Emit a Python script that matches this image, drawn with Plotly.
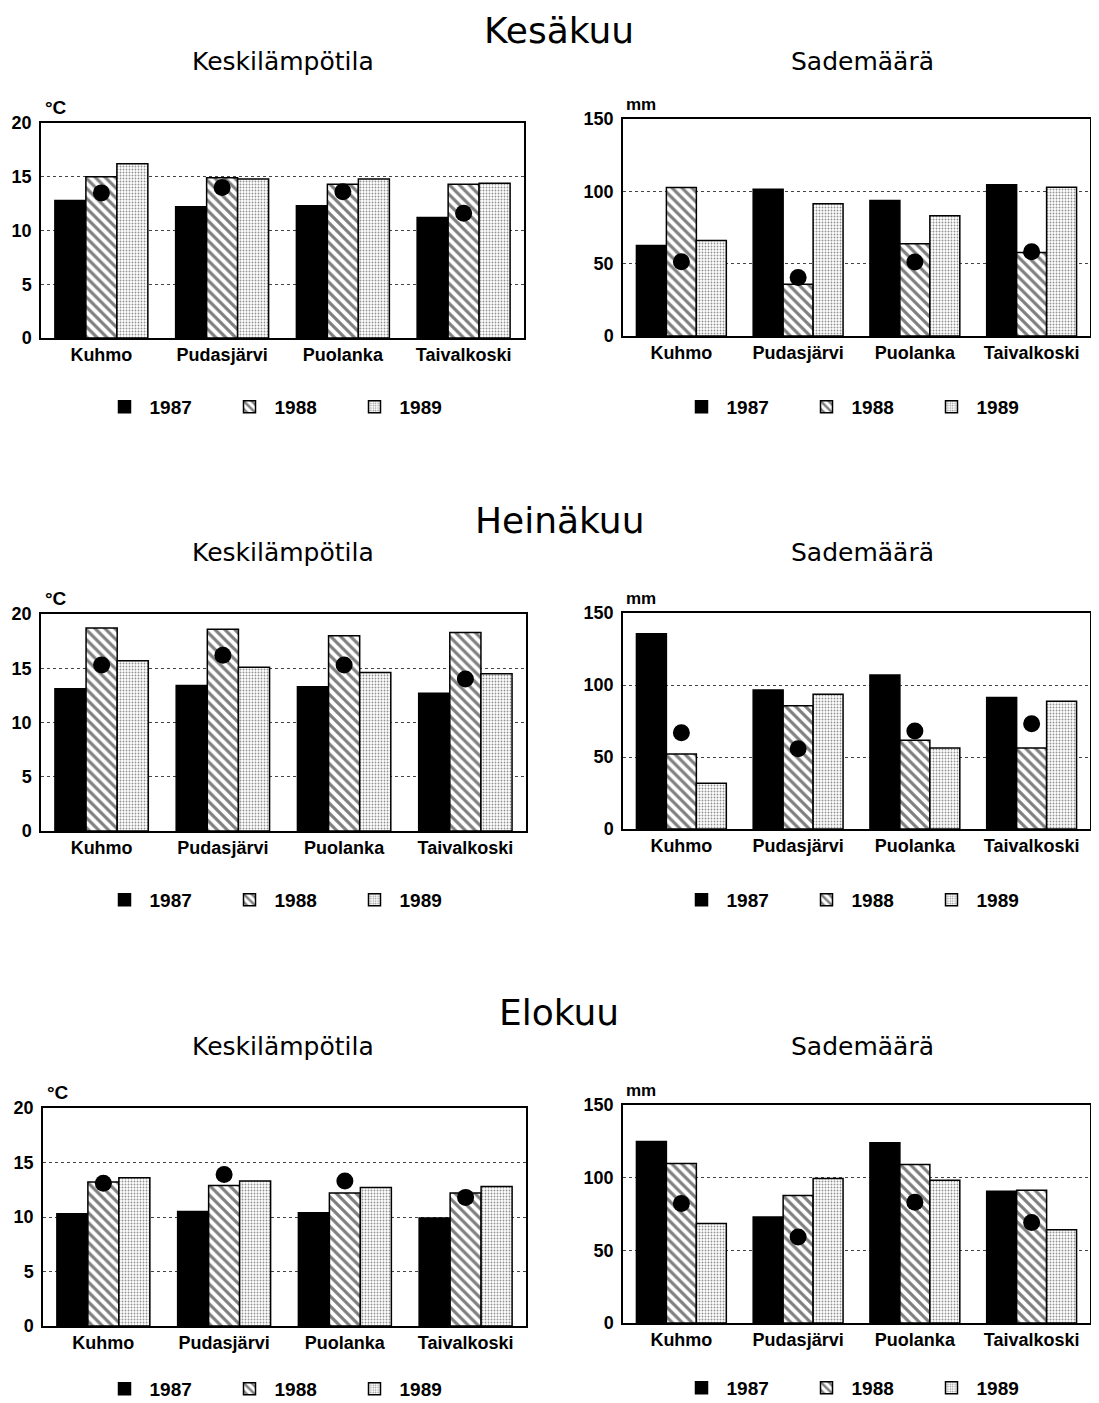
import plotly.graph_objects as go

stations = ["Kuhmo", "Pudasjärvi", "Puolanka", "Taivalkoski"]
years = ["1987", "1988", "1989"]

# Kesäkuu (June)
jun_temp_1987 = [12.8, 12.2, 12.3, 11.2]
jun_temp_1988 = [15.0, 14.9, 14.3, 14.3]
jun_temp_1989 = [16.2, 14.8, 14.8, 14.4]
jun_temp_mean = [13.5, 14.0, 13.6, 11.6]
jun_prec_1987 = [62.6, 101.5, 93.6, 104.5]
jun_prec_1988 = [102.6, 35.8, 63.8, 57.8]
jun_prec_1989 = [66.1, 91.5, 83.2, 102.8]
jun_prec_mean = [51.3, 40.4, 51.1, 58.2]

# Heinäkuu (July)
jul_temp_1987 = [13.1, 13.4, 13.3, 12.7]
jul_temp_1988 = [18.7, 18.6, 18.0, 18.3]
jul_temp_1989 = [15.7, 15.1, 14.6, 14.5]
jul_temp_mean = [15.3, 16.2, 15.3, 14.0]
jul_prec_1987 = [135.6, 96.5, 106.9, 91.4]
jul_prec_1988 = [52.1, 85.6, 61.6, 56.3]
jul_prec_1989 = [31.7, 93.5, 56.3, 88.7]
jul_prec_mean = [66.9, 55.8, 68.1, 73.1]

# Elokuu (August)
aug_temp_1987 = [10.3, 10.5, 10.4, 9.9]
aug_temp_1988 = [13.2, 12.9, 12.2, 12.2]
aug_temp_1989 = [13.6, 13.3, 12.7, 12.8]
aug_temp_mean = [13.1, 13.9, 13.3, 11.8]
aug_prec_1987 = [124.8, 73.0, 124.1, 90.7]
aug_prec_1988 = [109.7, 87.7, 109.0, 91.4]
aug_prec_1989 = [68.5, 99.4, 98.2, 64.1]
aug_prec_mean = [82.2, 59.1, 83.1, 69.2]

month_titles = ["Kesäkuu", "Heinäkuu", "Elokuu"]
left_title = "Keskilämpötila"
right_title = "Sademäärä"
temp_ticks = [0, 5, 10, 15, 20]
prec_ticks = [0, 50, 100, 150]

# page body has an 8px margin: screen = 8 + figure pixel
OFFX, OFFY = 8, 8
FW, FH = 1083, 1395


def fx(px):
    return min(1.0, max(0.0, (px - OFFX) / FW))


def fy(py):
    return min(1.0, max(0.0, 1 - (py - OFFY) / FH))


panels = [
    (jun_temp_1987, jun_temp_1988, jun_temp_1989, jun_temp_mean, "temp"),
    (jun_prec_1987, jun_prec_1988, jun_prec_1989, jun_prec_mean, "prec"),
    (jul_temp_1987, jul_temp_1988, jul_temp_1989, jul_temp_mean, "temp"),
    (jul_prec_1987, jul_prec_1988, jul_prec_1989, jul_prec_mean, "prec"),
    (aug_temp_1987, aug_temp_1988, aug_temp_1989, aug_temp_mean, "temp"),
    (aug_prec_1987, aug_prec_1988, aug_prec_1989, aug_prec_mean, "prec"),
]

# reference pixel boxes: (x0, x1, ytop, ybottom)
boxes = [
    (41, 524, 123, 338),
    (623, 1090, 119, 336),
    (41, 526, 614, 831),
    (623, 1090, 613, 829),
    (43, 526, 1108, 1326),
    (623, 1090, 1105, 1323),
]
legend_y_px = [407, 407, 900, 900, 1389, 1388]
legend_x_px = [287, 864, 287, 864, 287, 864]

FONT = "Liberation Sans, Arial, sans-serif"
TFONT = "DejaVu Sans, Verdana, sans-serif"

fig = go.Figure()
layout = dict(
    width=FW, height=FH, autosize=False,
    margin=dict(l=0, r=0, t=0, b=0, autoexpand=False),
    paper_bgcolor="white", plot_bgcolor="white",
    barmode="group", bargap=0.23, bargroupgap=0,
    font=dict(family=FONT, color="black"),
    annotations=[],
)

styles = [
    dict(color="black", pattern=None),
    dict(color="white", pattern=dict(shape="\\", fgcolor="black", bgcolor="white", size=7, solidity=0.45)),
    dict(color="white", pattern=dict(shape=".", fgcolor="#222222", bgcolor="white", size=3, solidity=0.3)),
]

for i, (v87, v88, v89, vmean, kind) in enumerate(panels):
    n = i + 1
    xa = "x" if n == 1 else f"x{n}"
    ya = "y" if n == 1 else f"y{n}"
    lg = "legend" if n == 1 else f"legend{n}"
    for j, (yr, vals) in enumerate(zip(years, [v87, v88, v89])):
        st = styles[j]
        marker = dict(color=st["color"], line=dict(color="black", width=1.5))
        if st["pattern"]:
            marker["pattern"] = st["pattern"]
        fig.add_trace(go.Bar(
            x=stations, y=vals, name=yr, xaxis=xa, yaxis=ya, legend=lg,
            marker=marker, offsetgroup=str(j),
        ))
    fig.add_trace(go.Scatter(
        x=stations, y=vmean, mode="markers", xaxis=xa, yaxis=ya,
        marker=dict(color="black", size=17), showlegend=False,
    ))
    x0, x1, yt, yb = boxes[i]
    xkey = "xaxis" if n == 1 else f"xaxis{n}"
    ykey = "yaxis" if n == 1 else f"yaxis{n}"
    layout[xkey] = dict(
        domain=[fx(x0), fx(x1)], anchor=ya, type="category",
        showline=True, linecolor="black", linewidth=1.5, mirror=True,
        showgrid=False, ticks="",
        tickfont=dict(size=18, family=FONT, weight=700),
        fixedrange=True,
    )
    if kind == "temp":
        rng, tv = [0, 20], temp_ticks
    else:
        rng, tv = [0, 150], prec_ticks
    layout[ykey] = dict(
        domain=[fy(yb), fy(yt)], anchor=xa, range=rng,
        tickvals=tv, ticks="",
        showline=True, linecolor="black", linewidth=1.5, mirror=True,
        showgrid=True, gridcolor="#444444", griddash="dot", gridwidth=1,
        zeroline=False, tickfont=dict(size=18, family=FONT, weight=700),
        ticklabelstandoff=4, fixedrange=True,
    )
    layout[lg] = dict(
        orientation="h", x=fx(legend_x_px[i]), xanchor="center",
        y=fy(legend_y_px[i]), yanchor="middle",
        font=dict(size=19, family=FONT, weight=700),
        entrywidth=70, entrywidthmode="pixels",
        itemwidth=40, traceorder="normal", bgcolor="rgba(0,0,0,0)",
    )
    unit = "°C" if kind == "temp" else "mm"
    layout["annotations"].append(dict(
        text=unit, xref="paper", yref="paper",
        x=fx(x0 + (2 if kind == "temp" else 1)), y=fy(yt - 3),
        xanchor="left", yanchor="bottom", showarrow=False,
        font=dict(size=19 if kind == "temp" else 17, family=FONT, weight=700),
    ))

title_y = [30, 520, 1012]
sub_y = [61, 552, 1046]
for k, t in enumerate(month_titles):
    layout["annotations"].append(dict(
        text=t, xref="paper", yref="paper", x=fx(559), y=fy(title_y[k]),
        xanchor="center", yanchor="middle", showarrow=False,
        font=dict(size=36, family=TFONT),
    ))
    layout["annotations"].append(dict(
        text=left_title, xref="paper", yref="paper", x=fx(283), y=fy(sub_y[k]),
        xanchor="center", yanchor="middle", showarrow=False,
        font=dict(size=25, family=TFONT),
    ))
    layout["annotations"].append(dict(
        text=right_title, xref="paper", yref="paper", x=fx(862), y=fy(sub_y[k]),
        xanchor="center", yanchor="middle", showarrow=False,
        font=dict(size=25, family=TFONT),
    ))

fig.update_layout(**layout)
fig.write_html("out.html")
